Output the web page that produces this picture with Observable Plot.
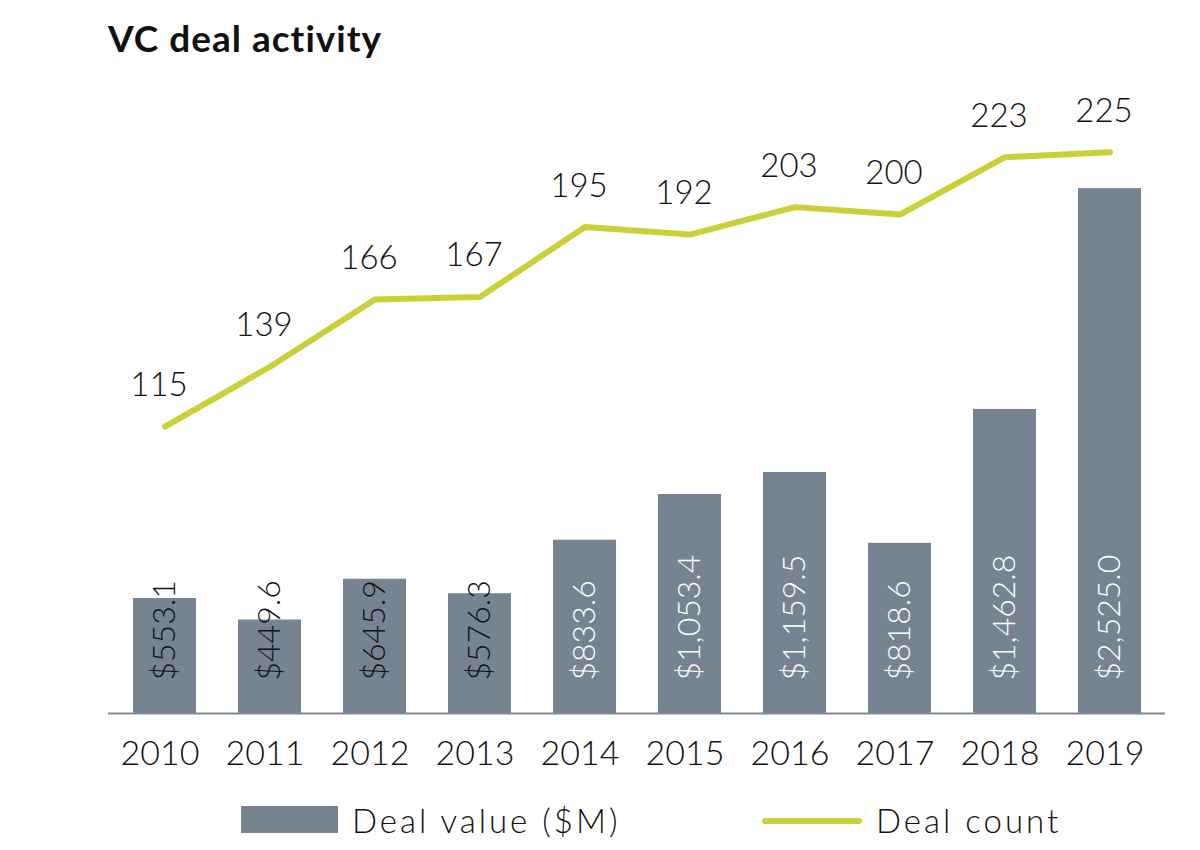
<!DOCTYPE html>
<html>
<head>
<meta charset="utf-8">
<script src="https://cdn.jsdelivr.net/npm/d3@7"></script>
<script src="https://cdn.jsdelivr.net/npm/@observablehq/plot@0.6"></script>
<style>
  html, body { margin: 0; padding: 0; background: #fff; }
  body { width: 1200px; height: 850px; position: relative; overflow: hidden; font-family: Lato, "Noto Sans", sans-serif; color: #111; }
  #title { position: absolute; left: 108px; top: 15px; font-size: 37px; font-weight: bold; letter-spacing: 1px; }
  #chart { position: absolute; left: 0; top: 90px; }
  #legend { position: absolute; left: 0; top: 800px; width: 1200px; height: 44px; font-size: 33px; font-weight: 300; letter-spacing: 3px; }
  .sw-bar { position: absolute; left: 241px; top: 6px; width: 97px; height: 27px; background: #768391; }
  .lab1 { position: absolute; left: 352px; top: 0px; }
  .sw-line { position: absolute; left: 762px; top: 18px; width: 100px; height: 6px; border-radius: 3px; background: #cbd03a; }
  .lab2 { position: absolute; left: 876px; top: 0px; }
</style>
</head>
<body>
<div id="title">VC deal activity</div>
<div id="chart"></div>
<div id="legend">
  <div class="sw-bar"></div><div class="lab1">Deal value ($M)</div>
  <div class="sw-line"></div><div class="lab2">Deal count</div>
</div>
<script>
const years = ["2010","2011","2012","2013","2014","2015","2016","2017","2018","2019"];
const dealValue = [553.1, 449.6, 645.9, 576.3, 833.6, 1053.4, 1159.5, 818.6, 1462.8, 2525.0];
const dealCount = [115, 139, 166, 167, 195, 192, 203, 200, 223, 225];
const valueLabels = ["$553.1","$449.6","$645.9","$576.3","$833.6","$1,053.4","$1,159.5","$818.6","$1,462.8","$2,525.0"];

const countScale = 12; // deal count plotted on secondary scale (count × 12 in $M units)

const data = years.map((y, i) => ({
  year: y, value: dealValue[i], count: dealCount[i], label: valueLabels[i]
}));

const chart = Plot.plot({
  width: 1200,
  height: 700,
  marginLeft: 108,
  marginRight: 35,
  marginTop: 0,
  marginBottom: 77,
  style: { fontFamily: "Lato, 'Noto Sans', sans-serif", fontWeight: 300, color: "#111", background: "transparent" },
  x: { domain: years, paddingInner: 0.40, paddingOuter: 0.23, label: null },
  y: { domain: [0, 2997], axis: null },
  marks: [
    Plot.barY(data, { x: "year", y: "value", fill: "#768391" }),
    Plot.ruleY([0], { stroke: "#7a8a99", strokeWidth: 2 }),
    Plot.axisX({ tickSize: 0, tickPadding: 27, fontSize: 34, fill: "#111", dx: -5 }),
    Plot.text(data, {
      x: "year", y: 0, text: "label", rotate: -90, textAnchor: "start",
      dy: -33, fontSize: 32, fill: d => d.value > 800 ? "white" : "#111"
    }),
    Plot.line(data, {
      x: "year", y: d => d.count * countScale, stroke: "#cbd03a",
      strokeWidth: 6, strokeLinecap: "round", strokeLinejoin: "round"
    }),
    Plot.text(data, {
      x: "year", y: d => d.count * countScale, text: d => String(d.count),
      dy: -41, dx: -6, fontSize: 33, fill: "#111"
    })
  ]
});
document.getElementById("chart").appendChild(chart);
</script>
</body>
</html>
